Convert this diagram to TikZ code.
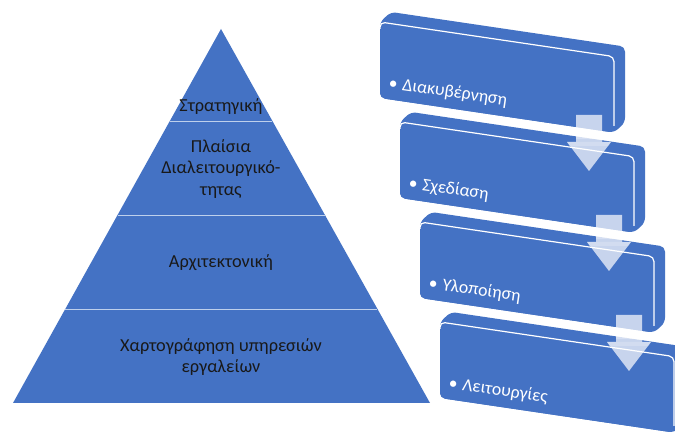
\documentclass[tikz,border=0pt]{standalone}
\usepackage{fontspec}
\setmainfont{Carlito}
\usetikzlibrary{calc}
\definecolor{obl}{RGB}{68,114,196}
\definecolor{divl}{RGB}{190,208,236}
\tikzset{
  divider/.style={draw=divl, line width=0.9pt},
  pyrtext/.style={align=center, text=black!90, inner sep=0pt, font=\fontsize{18.3}{21.6}\selectfont},
  boxtext/.style={text=white, inner sep=0pt, font=\fontsize{17.8}{20}\selectfont},
  arrowfill/.style={fill=white, fill opacity=0.7},
}
\begin{document}
\begin{tikzpicture}[x=1pt,y=-1pt]
\useasboundingbox (0,0) rectangle (675,435);
\clip (0,0) rectangle (675,435);
\fill[white] (0,0) rectangle (675,435);
% pyramid
\coordinate (apex) at (221,29);
\coordinate (bl) at (13,403);
\coordinate (br) at (430,403);
\fill[obl] (apex) -- (br) -- (bl) -- cycle;
\foreach \t in {0.246,0.4973,0.7487}
  \draw[divider] ($(apex)!\t!(bl)$) -- ($(apex)!\t!(br)$);
\node[pyrtext] (p1) at (221,107) {Στρατηγική};
\node[pyrtext] (p2) at (221,169) {Πλαίσια\\Διαλειτουργικό-\\τητας};
\node[pyrtext] (p3) at (221,263) {Αρχιτεκτονική};
\node[pyrtext] (p4) at (221,357) {Χαρτογράφηση υπηρεσιών\\εργαλείων};
% stepped boxes
\foreach \i/\txt in {0/Διακυβέρνηση,1/Σχεδίαση,2/Υλοποίηση,3/Λειτουργίες}{
  \pgfmathsetmacro\xa{380+20*\i}
  \pgfmathsetmacro\ya{22+100*\i}
  \begin{scope}[shift={(\xa,\ya)}]
    \fill[obl, rounded corners=5] (0,0) -- (11,-10) -- (245,24.6) -- (245,100.6) -- (234,110.6) -- (0,76) -- cycle;
    \fill[obl, rounded corners=5] (0,0) -- (234,34.6) -- (234,110.6) -- (0,76) -- cycle;
    \draw[white, line width=1.2pt, rounded corners=5] (0,7) -- (0,0) -- (234,34.6) -- (234,104);
    \node[boxtext, rotate=-8.4, anchor=base west] (t\i) at (8,66) {•\hspace{5pt}\txt};
  \end{scope}
}
% arrows
\foreach \i in {0,1,2}{
  \pgfmathsetmacro\cx{589+20*\i}
  \pgfmathsetmacro\yt{115+100*\i}
  \begin{scope}[shift={(\cx,\yt)}]
    \fill[arrowfill] (-13,0) -- (13,0) -- (13,27) -- (22,27) -- (0,56) -- (-22,27) -- (-13,27) -- cycle;
    \fill[white, fill opacity=0.25] (-13,19) rectangle (13,24);
    \fill[white, fill opacity=0.2] (-22,27) -- (22,27) -- (19.5,31) -- (-19.5,31) -- cycle;
  \end{scope}
}
\end{tikzpicture}
\end{document}
